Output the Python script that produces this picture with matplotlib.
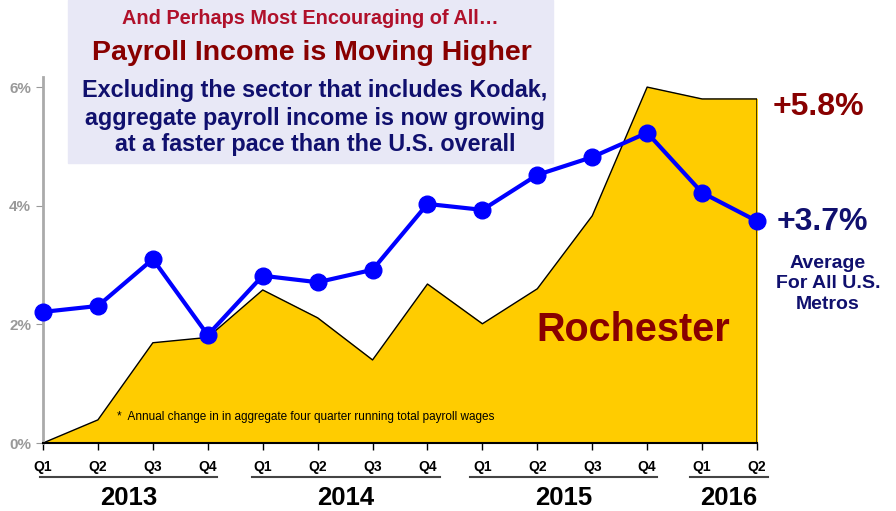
import matplotlib.pyplot as plt
from matplotlib.patches import Rectangle

plt.rcParams['font.family'] = ['Liberation Sans', 'DejaVu Sans']
plt.rcParams['font.weight'] = 'bold'

# data (annual % change)
quarters = ['Q1', 'Q2', 'Q3', 'Q4'] * 3 + ['Q1', 'Q2']
years = ['2013', '2014', '2015', '2016']
rochester = [0.0, 0.39, 1.69, 1.78, 2.58, 2.11, 1.40, 2.68, 2.01, 2.60, 3.83, 6.0, 5.80, 5.80]
us_metros = [2.21, 2.31, 3.10, 1.82, 2.82, 2.71, 2.92, 4.03, 3.93, 4.52, 4.82, 5.23, 4.22, 3.74]
yticks = [0, 2, 4, 6]

navy = '#10106E'
darkred = '#880000'

fig = plt.figure(figsize=(8.96, 5.11), dpi=100)
ax = fig.add_axes([43/896, 1-443/511, (757-43)/896, (443-77)/511])

x = list(range(len(quarters)))
ax.fill_between(x, rochester, 0, color='#FFCC00', zorder=1)
ax.plot(x + [x[-1]], rochester + [0], color='black', lw=1, zorder=2)
ax.plot(x, us_metros, color='#0000FF', lw=3, marker='o', markersize=12, zorder=3, clip_on=False)

ax.set_xlim(0, 13)
ax.set_ylim(0, 6.17)
ax.set_yticks(yticks)
ax.set_yticklabels([f'{t}%' for t in yticks], color='#999999', fontsize=11, fontweight='bold')
ax.set_xticks(x)
ax.set_xticklabels([])
ax.tick_params(axis='y', color='#999999', length=5)
ax.tick_params(axis='x', color='black', length=5, width=1)
for s in ['top', 'right']:
    ax.spines[s].set_visible(False)
ax.spines['left'].set_color('#AAAAAA')
ax.spines['left'].set_linewidth(2)
ax.spines['bottom'].set_linewidth(1.5)

# quarter labels and year groups
for i, q in enumerate(quarters):
    ax.annotate(q, (i, 0), xytext=(0, -17), textcoords='offset points',
                ha='center', va='center', fontsize=10, fontweight='bold',
                annotation_clip=False)
groups = [(0, 3), (4, 7), (8, 11), (12, 13)]
pads = [(3, 9), (11, 13), (12, 10), (12, 11)]
for (a, b), (pl, pr), yr in zip(groups, pads, years):
    x0 = 43 + a * 54.92 - pl
    x1 = 43 + b * 54.92 + pr
    fig.add_artist(plt.Line2D([x0/896, x1/896], [1-477/511]*2, color='#444444', lw=1.5))
    fig.text((x0 + x1)/2/896, 1-498/511, yr, ha='center', va='center',
             fontsize=18.5, fontweight='bold')

# title box
fig.add_artist(Rectangle((68/896, 1-163/511), (553-68)/896, 163/511,
                         transform=fig.transFigure, color='#E8E8F6', zorder=5))
cx = 312/896
fig.text(cx - 2/896, 1-18/511, 'And Perhaps Most Encouraging of All…', ha='center', va='center',
         fontsize=14.3, color='#B0102A', zorder=6)
fig.text(cx, 1-53/511, 'Payroll Income is Moving Higher', ha='center', va='center',
         fontsize=20.5, color=darkred, zorder=6)
for yy, line in zip([90, 118, 145], ['Excluding the sector that includes Kodak,',
                                     'aggregate payroll income is now growing',
                                     'at a faster pace than the U.S. overall']):
    fig.text(cx + 3/896, 1-yy/511, line, ha='center', va='center', fontsize=16.8,
             color=navy, zorder=6)

# annotations
fig.text(818/896, 1-107/511, '+5.8%', ha='center', va='center', fontsize=23, color=darkred)
fig.text(822/896, 1-222/511, '+3.7%', ha='center', va='center', fontsize=23, color=navy)
fig.text(828/896, 1-284/511, 'Average\nFor All U.S.\nMetros', ha='center', va='center',
         fontsize=14, color=navy, linespacing=1.3)
fig.text(633/896, 1-330/511, 'Rochester', ha='center', va='center', fontsize=28.5, color=darkred)
fig.text(117/896, 1-417/511, '*  Annual change in in aggregate four quarter running total payroll wages',
         ha='left', va='center', fontsize=8.5, fontweight='normal', color='black')

fig.savefig('out.png', dpi=100)
